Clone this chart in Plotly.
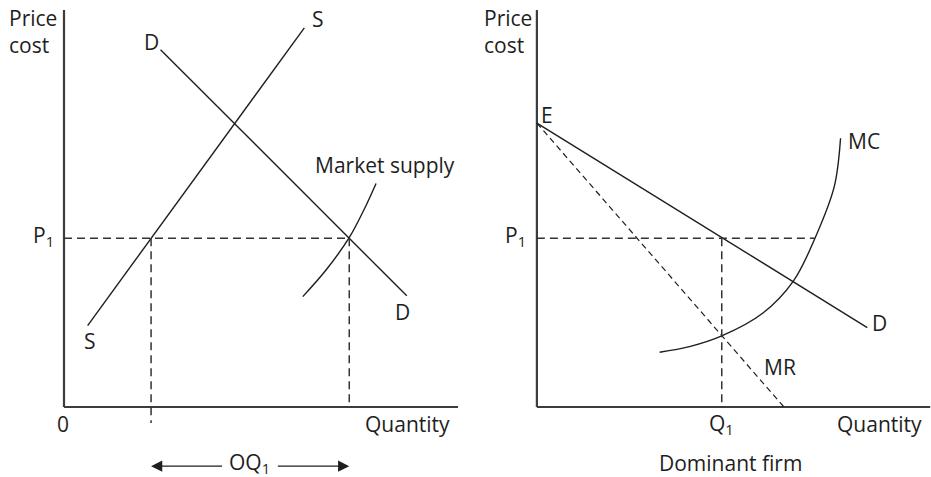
import plotly.graph_objects as go

# ---------------- data (arbitrary diagram units) ----------------
# Left panel: market
axis_len = [0, 100]
s_x = [6, 61]
s_y = [20.5, 95.5]
d_x = [24.5, 87]
d_y = [90, 28]
p1 = 42.5
q_supply = 22.1
q_demand = 72.4
ms_x = [60.6, 66.5, 72.3, 76.1, 79.2]
ms_y = [27.8, 34.5, 42.5, 49.6, 56.3]

# Right panel: dominant firm
e_price = 71.5
dd_x = [0, 84]
dd_y = [e_price, 20.0]
mr_x = [0, 62.8]
mr_y = [e_price, 0]
q1 = 47.0
p1_mc_q = 70.7
mc_x = [31.2, 38.8, 47.0, 57.4, 65.2, 70.7, 75.6, 77.2]
mc_y = [13.8, 15.2, 17.9, 23.6, 31.7, 42.5, 55.5, 67.7]

INK = "#1e1e1e"
AX = "#3c3c3c"
FONT = "Open Sans"
FS = 21

fig = go.Figure()

def line(x, y, xa, ya, width=1.4, dash=None, color=INK, shape="linear"):
    fig.add_trace(go.Scatter(
        x=x, y=y, mode="lines", xaxis=xa, yaxis=ya, hoverinfo="skip",
        line=dict(color=color, width=width, dash=dash, shape=shape, smoothing=1.0),
        showlegend=False))

# ---- left panel ----
line([0, 0], axis_len, "x", "y", width=2.2, color=AX)
line(axis_len, [0, 0], "x", "y", width=2.2, color=AX)
line(s_x, s_y, "x", "y")
line(d_x, d_y, "x", "y")
line(ms_x, ms_y, "x", "y", shape="spline")
line([0, q_demand], [p1, p1], "x", "y", width=1.5, dash="8px,5px", color="#333")
line([q_supply, q_supply], [p1, -4], "x", "y", width=1.5, dash="8px,5px", color="#333")
line([q_demand, q_demand], [p1, 0], "x", "y", width=1.5, dash="8px,5px", color="#333")

# ---- right panel ----
line([0, 0], axis_len, "x2", "y2", width=2.2, color=AX)
line(axis_len, [0, 0], "x2", "y2", width=2.2, color=AX)
line(dd_x, dd_y, "x2", "y2")
line(mr_x, mr_y, "x2", "y2", width=1.2, dash="6px,4px")
line(mc_x, mc_y, "x2", "y2", shape="spline")
line([0, p1_mc_q], [p1, p1], "x2", "y2", width=1.5, dash="8px,5px", color="#333")
line([q1, q1], [p1, 0], "x2", "y2", width=1.5, dash="8px,5px", color="#333")

# ---------------- labels ----------------
ann = []
def txt(t, x, y, xr, yr, xanchor="center", yanchor="middle", align="center"):
    ann.append(dict(text=t, x=x, y=y, xref=xr, yref=yr, showarrow=False,
                    xanchor=xanchor, yanchor=yanchor, align=align, borderpad=0,
                    font=dict(family=FONT, size=FS, color=INK)))

for xr, yr, px in [("x", "y", -14.2), ("x2", "y2", -13.8)]:
    txt("Price<br>cost", px, 94.6, xr, yr, xanchor="left", align="left")

txt("S", 64.5, 97.7, "x", "y")
txt("D", 22.3, 91.9, "x", "y")
txt("S", 6.6, 16.6, "x", "y")
txt("D", 85.8, 23.9, "x", "y")
txt("Market supply", 81.5, 61.0, "x", "y")
txt("P<sub>1</sub>", -2.4, p1 + 0.5, "x", "y", xanchor="right")
txt("0", -0.25, -4.2, "x", "y")
txt("Quantity", 87.1, -4.2, "x", "y")
txt("OQ<sub>1</sub>", 47.2, -14.2, "x", "y")

txt("E", 2.5, 73.6, "x2", "y2")
txt("MC", 83.2, 67.0, "x2", "y2")
txt("D", 87.1, 21.2, "x2", "y2")
txt("MR", 61.7, 10.1, "x2", "y2")
txt("P<sub>1</sub>", -2.4, p1 + 0.5, "x2", "y2", xanchor="right")
txt("Q<sub>1</sub>", q1, -4.2, "x2", "y2")
txt("Quantity", 87.1, -4.2, "x2", "y2")
txt("Dominant firm", 49.3, -14.2, "x2", "y2")

# OQ1 double arrow (two arrows from the label gap to the quantities)
for head, tail in [(q_supply, 40.5), (q_demand, 53.9)]:
    ann.append(dict(text="", x=head, y=-14.9, ax=tail, ay=-14.9, xref="x", yref="y",
                    axref="x", ayref="y", showarrow=True, arrowhead=2, arrowsize=1.6,
                    arrowwidth=1.4, arrowcolor=INK, font=dict(size=FS)))

fig.update_layout(
    width=931, height=477,
    margin=dict(l=0, r=0, t=0, b=0),
    paper_bgcolor="white", plot_bgcolor="white",
    annotations=ann,
    xaxis=dict(domain=[0, 0.5], range=[-16.24, 101.9], visible=False, fixedrange=True),
    yaxis=dict(domain=[0, 1], range=[-17.63, 102.5], visible=False, fixedrange=True),
    xaxis2=dict(domain=[0.5, 1], range=[-18.15, 100.2], visible=False, fixedrange=True),
    yaxis2=dict(domain=[0, 1], range=[-17.63, 102.5], visible=False, fixedrange=True, anchor="x2"),
)

fig.write_html("out.html", config={"displayModeBar": False},
               post_script="document.body.style.margin='0';document.body.style.overflow='hidden';")
